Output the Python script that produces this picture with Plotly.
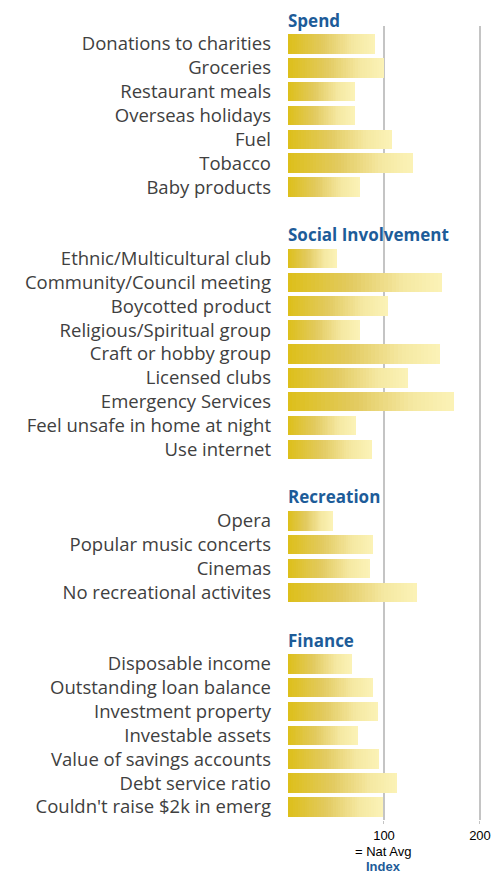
import plotly.graph_objects as go

spend_labels = ["Donations to charities", "Groceries", "Restaurant meals", "Overseas holidays",
                "Fuel", "Tobacco", "Baby products"]
spend_values = [91, 100, 70, 70, 108, 130, 75]

social_labels = ["Ethnic/Multicultural club", "Community/Council meeting", "Boycotted product",
                 "Religious/Spiritual group", "Craft or hobby group", "Licensed clubs",
                 "Emergency Services", "Feel unsafe in home at night", "Use internet"]
social_values = [51, 160, 104, 75, 158, 125, 173, 71, 87]

recreation_labels = ["Opera", "Popular music concerts", "Cinemas", "No recreational activites"]
recreation_values = [47, 89, 85, 134]

finance_labels = ["Disposable income", "Outstanding loan balance", "Investment property",
                  "Investable assets", "Value of savings accounts", "Debt service ratio",
                  "Couldn't raise $2k in emerg"]
finance_values = [67, 89, 94, 73, 95, 114, 99]

groups = [
    ("Spend", spend_labels, spend_values),
    ("Social Involvement", social_labels, social_values),
    ("Recreation", recreation_labels, recreation_values),
    ("Finance", finance_labels, finance_values),
]

# lay the groups out as rows: header row, items, one blank row
positions, labels, values, headers = [], [], [], []
row = -1
for name, labs, vals in groups:
    headers.append((name, row))
    row += 1
    for lab, val in zip(labs, vals):
        positions.append(row)
        labels.append(lab)
        values.append(val)
        row += 1
    row += 1

y_range = [32.55, -0.755]

# gold -> pale yellow gradient along each bar
stops = [(0.0, (221, 191, 25)), (0.4, (226, 202, 95)), (0.75, (245, 232, 162)), (1.0, (251, 243, 183))]


def shade(t):
    for (t0, c0), (t1, c1) in zip(stops[:-1], stops[1:]):
        if t <= t1:
            f = (t - t0) / (t1 - t0)
            return "rgb(%d,%d,%d)" % tuple(round(a + (b - a) * f) for a, b in zip(c0, c1))
    return "rgb(%d,%d,%d)" % stops[-1][1]


n_steps = 40
fig = go.Figure()
for k in range(n_steps):
    fig.add_trace(go.Bar(
        x=[v / n_steps for v in values],
        y=positions,
        orientation="h",
        width=0.82,
        marker=dict(color=shade((k + 0.5) / n_steps), line=dict(width=0)),
        hoverinfo="skip",
        showlegend=False,
    ))

label_font = dict(family="Open Sans, sans-serif", size=18.5, color="#404040")
head_font = dict(family="Open Sans, sans-serif", size=17, color="#1d5c99")

# section headers sit on the row above each group (paper coords so the top one isn't hidden)
for name, r in headers:
    fig.add_annotation(x=0, xref="paper", y=(y_range[0] - r) / (y_range[0] - y_range[1]), yref="paper",
                       text="<b>%s</b>" % name, showarrow=False, xanchor="left", yanchor="middle",
                       xshift=-2, font=head_font)

fig.add_annotation(x=100, xref="x", y=0, yref="paper", yanchor="top", yshift=-22,
                   text="= Nat Avg", showarrow=False,
                   font=dict(family="Liberation Sans, Arial", size=13, color="#000000"))
fig.add_annotation(x=100, xref="x", y=0, yref="paper", yanchor="top", yshift=-37,
                   text="<b>Index</b>", showarrow=False,
                   font=dict(family="Liberation Sans, Arial", size=13, color="#1d5c99"))

fig.update_layout(
    barmode="stack",
    bargap=0,
    width=496,
    height=874,
    margin=dict(l=288, r=0, t=26, b=54),
    plot_bgcolor="white",
    paper_bgcolor="white",
    xaxis=dict(
        range=[0, 216.7],
        automargin=False,
        tickvals=[100, 200],
        ticktext=["100", "200"],
        showgrid=True,
        gridcolor="#c4c4c4",
        gridwidth=2,
        zeroline=False,
        ticks="outside",
        ticklen=3,
        tickcolor="#c4c4c4",
        tickfont=dict(family="Liberation Sans, Arial", size=13, color="#000000"),
    ),
    yaxis=dict(
        range=y_range,
        automargin=False,
        tickvals=positions,
        ticktext=labels,
        showgrid=False,
        zeroline=False,
        ticks="",
        ticklabelstandoff=16,
        tickfont=label_font,
    ),
)

# drop the page's default 8px body margin so the figure fills the window exactly
fig.write_html("out.html", config={"displayModeBar": False},
               post_script="document.body.style.margin = '0';")
